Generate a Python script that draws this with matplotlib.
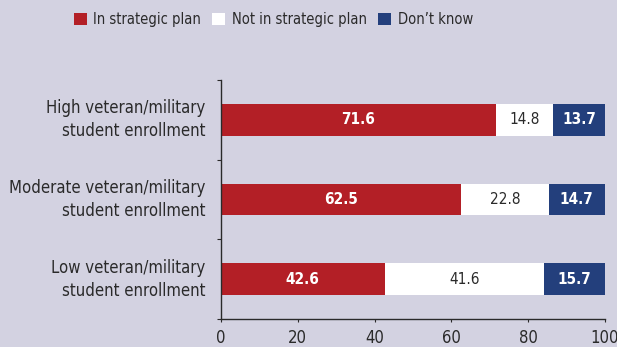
import matplotlib
matplotlib.use('Agg')
import matplotlib.pyplot as plt
import matplotlib.font_manager as fm
from matplotlib.patches import Patch
import numpy as np

# 좁은 글꼴이 있으면 사용
names = {f.name for f in fm.fontManager.ttflist}
if 'Liberation Sans Narrow' in names:
    plt.rcParams['font.family'] = ['Liberation Sans Narrow', 'DejaVu Sans']
else:
    plt.rcParams['font.family'] = ['DejaVu Sans']
    plt.rcParams['font.stretch'] = 'condensed'

categories = ['High veteran/military\nstudent enrollment',
              'Moderate veteran/military\nstudent enrollment',
              'Low veteran/military\nstudent enrollment']
in_plan = [71.6, 62.5, 42.6]
not_in_plan = [14.8, 22.8, 41.6]
dont_know = [13.7, 14.7, 15.7]
series_names = ['In strategic plan', 'Not in strategic plan', 'Don\u2019t know']

bg = '#d3d2e1'
red = '#b31f26'
white = '#ffffff'
blue = '#233f7c'
ink = '#2a2a2a'

fig = plt.figure(figsize=(6.17, 3.47), dpi=100, facecolor=bg)
ax = fig.add_axes([0.3582, 0.0807, 0.6223, 0.6888], facecolor=bg)

y = np.arange(len(categories))[::-1]
left2 = np.array(in_plan)
left3 = left2 + np.array(not_in_plan)

ax.barh(y, in_plan, height=0.4, color=red)
ax.barh(y, not_in_plan, left=left2, height=0.4, color=white)
ax.barh(y, dont_know, left=left3, height=0.4, color=blue)

for i in range(len(categories)):
    ax.text(in_plan[i] / 2, y[i], f'{in_plan[i]:.1f}', ha='center', va='center',
            color='white', fontsize=11, fontweight='bold')
    ax.text(left2[i] + not_in_plan[i] / 2, y[i], f'{not_in_plan[i]:.1f}', ha='center',
            va='center', color=ink, fontsize=11)
    ax.text(left3[i] + dont_know[i] / 2, y[i], f'{dont_know[i]:.1f}', ha='center',
            va='center', color='white', fontsize=11, fontweight='bold')

ax.set_xlim(0, 100)
ax.set_ylim(-0.5, 2.5)
ax.set_xticks([0, 20, 40, 60, 80, 100])
ax.tick_params(axis='x', labelsize=12, length=2.5, width=0.8, color=ink,
               labelcolor=ink, pad=5)

# 범주 경계에 눈금, 라벨은 가운데
ax.set_yticks(y)
ax.set_yticklabels(categories, fontsize=12, color=ink, ha='right', va='center',
                   multialignment='right', linespacing=1.35)
ax.set_yticks([-0.5, 0.5, 1.5, 2.5], minor=True)
ax.tick_params(axis='y', which='major', length=0, pad=11.5)
ax.tick_params(axis='y', which='minor', length=3, width=0.8, color=ink)

for s in ['top', 'right']:
    ax.spines[s].set_visible(False)
for s in ['left', 'bottom']:
    ax.spines[s].set_color(ink)
    ax.spines[s].set_linewidth(1.0)

handles = [Patch(facecolor=c, edgecolor='none') for c in (red, white, blue)]
fig.legend(handles, series_names, loc='center', bbox_to_anchor=(0.443, 0.943),
           ncol=3, frameon=False, fontsize=10.5, handlelength=0.9, handleheight=0.9,
           handletextpad=0.45, columnspacing=0.75, labelcolor=ink)

fig.savefig('out.png', dpi=100, facecolor=bg)
